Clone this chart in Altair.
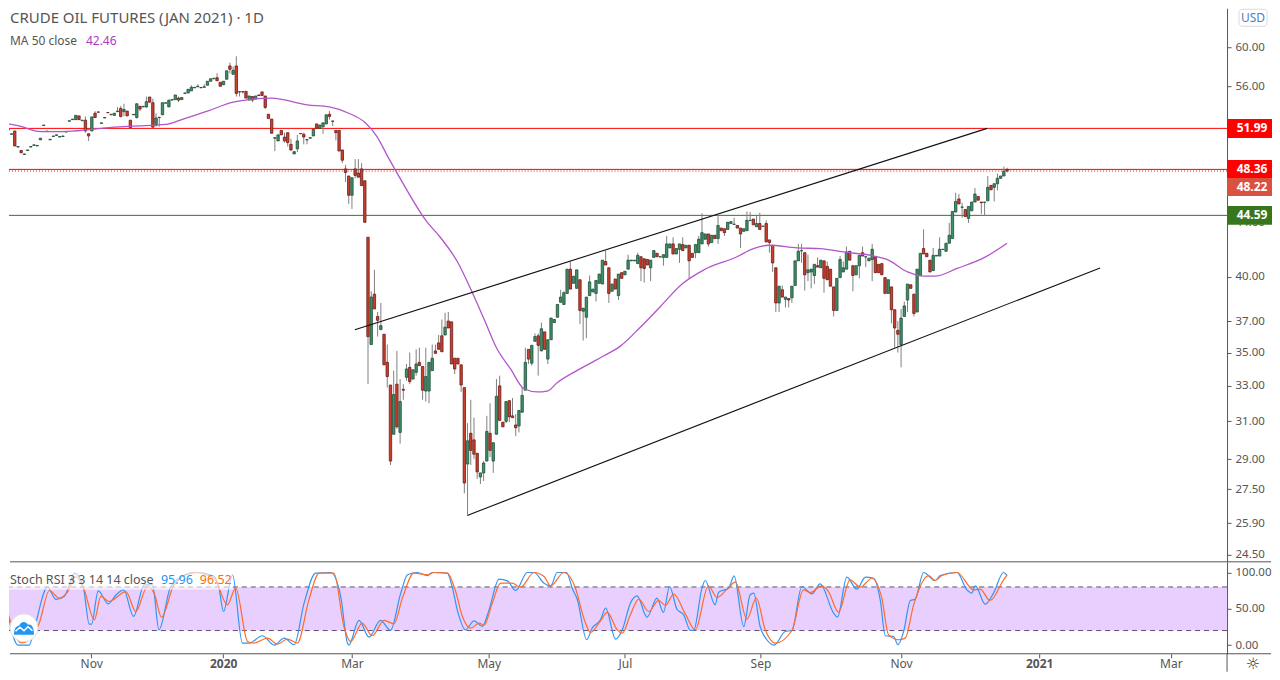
import altair as alt
import pandas as pd

# daily candles, ten bars per row
opens = [
    51.85, 51.45, 51.75, 50.3, 50.0, 49.65, 50.0, 50.3, 50.45, 50.4,
    50.95, 52.25, 51.7, 50.95, 51.25, 51.35, 51.2, 51.25, 51.65, 52.65,
    52.8, 52.8, 53.15, 52.7, 52.75, 51.5, 51.75, 53.4, 53.52, 52.45,
    52.95, 53.47, 53.25, 53.2, 53.55, 53.85, 53.55, 53.6, 52.75, 53.25,
    53.0, 54.05, 54.0, 54.0, 54.95, 54.4, 52.3, 53.02, 53.25, 54.35,
    54.0, 54.65, 54.7, 54.85, 54.7, 55.3, 55.35, 55.55, 55.85, 55.95,
    55.88, 55.9, 56.1, 56.5, 56.75, 56.85, 56.4, 56.15, 56.7, 58.05,
    57.2, 58.05, 55.47, 55.47, 55.5, 54.65, 55.0, 54.75, 55.15, 55.45,
    55.05, 53.3, 52.85, 51.1, 50.85, 51.8, 51.2, 51.6, 50.55, 49.7,
    50.15, 51.52, 51.45, 50.97, 51.1, 51.3, 52.4, 52.0, 52.15, 52.4,
    53.3, 52.67, 51.8, 51.8, 50.05, 48.4, 47.8, 46.2, 48.4, 48.05,
    48.4, 47.4, 42.9, 35.5, 38.8, 37.3, 36.45, 36.15, 34.4, 33.05,
    30.3, 33.1, 30.4, 32.8, 33.5, 34.1, 33.4, 33.8, 34.4, 34.15,
    32.7, 32.7, 33.9, 35.1, 35.6, 36.05, 36.1, 37.0, 36.95, 34.65,
    34.65, 34.25, 32.9, 28.75, 30.35, 30.0, 29.3, 28.1, 28.3, 28.9,
    30.35, 28.9, 30.3, 33.0, 30.95, 31.0, 32.15, 31.3, 30.8, 30.75,
    31.5, 32.75, 35.2, 34.35, 35.7, 36.05, 35.1, 36.3, 34.6, 35.8,
    36.9, 37.25, 38.25, 38.1, 38.85, 40.55, 39.55, 39.2, 39.8, 37.65,
    37.25, 38.7, 38.95, 38.85, 39.55, 39.5, 41.1, 40.65, 39.0, 39.85,
    38.7, 40.3, 40.15, 40.55, 41.15, 41.15, 40.95, 41.45, 41.3, 41.25,
    40.65, 41.4, 41.7, 41.43, 41.4, 41.4, 42.1, 42.4, 41.65, 42.0,
    42.35, 42.1, 42.3, 41.7, 41.75, 41.75, 42.4, 42.75, 43.15, 42.5,
    43.05, 42.8, 43.6, 43.55, 43.5, 43.95, 43.88, 43.8, 43.6, 43.35,
    43.4, 44.18, 44.3, 43.7, 43.95, 43.73, 43.95, 42.7, 42.3, 40.65,
    38.2, 39.1, 38.45, 38.5, 38.55, 39.4, 41.15, 41.88, 41.75, 40.3,
    40.35, 40.1, 40.8, 40.65, 41.15, 40.75, 40.55, 39.3, 37.7, 39.95,
    40.35, 40.55, 41.85, 40.8, 40.15, 40.8, 41.75, 41.43, 41.15, 41.25,
    41.45, 40.9, 40.95, 39.95, 38.85, 39.3, 37.75, 36.4, 35.5, 37.3,
    38.4, 39.45, 38.8, 37.6, 40.1, 42.05, 41.7, 41.2, 40.45, 41.5,
    41.5, 41.98, 41.85, 42.45, 42.8, 44.85, 45.9, 45.23, 45.05, 44.35,
    44.95, 45.65, 46.1, 45.65, 45.63, 45.75, 47.0, 46.85, 47.15, 47.6, 47.8, 48.36,
]
highs = [
    51.9, 51.5, 51.75, 50.35, 50.0, 49.7, 50.05, 50.35, 50.5, 50.45,
    51.1, 52.3, 51.75, 51.0, 51.3, 51.4, 51.25, 51.3, 51.7, 52.7,
    52.85, 53.2, 53.15, 52.75, 53.1, 51.5, 53.05, 53.6, 53.55, 52.5,
    53.0, 53.47, 53.3, 53.4, 54.0, 54.1, 54.3, 53.6, 52.75, 53.3,
    54.3, 54.1, 54.05, 55.0, 54.95, 54.8, 53.4, 53.02, 54.4, 54.4,
    54.65, 54.7, 55.15, 55.0, 54.9, 55.35, 55.7, 56.1, 55.9, 56.2,
    55.88, 56.2, 56.5, 56.75, 56.8, 57.3, 56.4, 56.5, 57.55, 58.4,
    58.0, 59.05, 55.47, 55.47, 55.5, 55.05, 55.0, 55.05, 55.15, 55.45,
    55.05, 53.3, 52.85, 51.15, 51.4, 51.8, 51.6, 51.6, 51.05, 49.9,
    51.4, 51.52, 51.6, 50.97, 51.15, 51.9, 52.4, 52.3, 52.5, 53.25,
    53.6, 52.67, 51.8, 51.8, 50.05, 48.75, 47.8, 47.65, 49.25, 49.25,
    48.9, 47.4, 42.9, 39.0, 40.5, 37.6, 38.2, 36.15, 35.5, 33.05,
    33.9, 35.1, 33.4, 33.1, 34.3, 35.0, 33.95, 35.2, 35.3, 34.15,
    35.3, 34.4, 35.5, 35.5, 36.1, 37.1, 37.55, 37.6, 36.95, 34.65,
    34.65, 34.25, 32.9, 30.9, 32.2, 31.2, 29.3, 28.3, 28.9, 31.3,
    32.0, 29.85, 33.4, 33.6, 30.95, 32.1, 32.15, 32.3, 31.4, 31.6,
    32.9, 35.3, 35.2, 35.45, 36.2, 36.2, 36.9, 36.3, 35.8, 37.2,
    37.1, 38.1, 39.1, 39.0, 40.55, 41.1, 40.05, 40.5, 39.8, 37.85,
    38.6, 40.1, 39.15, 39.75, 40.2, 41.2, 41.9, 40.65, 39.5, 39.85,
    40.2, 40.3, 40.4, 41.6, 41.2, 41.2, 41.75, 41.45, 41.3, 41.25,
    41.2, 41.9, 41.7, 41.45, 41.6, 43.0, 42.4, 42.9, 42.05, 42.4,
    42.9, 42.3, 42.3, 41.7, 42.35, 43.0, 44.75, 43.15, 43.15, 43.05,
    43.05, 44.6, 43.6, 43.55, 44.05, 44.1, 44.4, 43.8, 43.6, 43.55,
    44.9, 44.85, 44.3, 44.6, 44.8, 43.75, 44.2, 42.7, 42.3, 40.65,
    39.35, 39.4, 38.6, 38.5, 39.35, 41.15, 42.4, 42.4, 41.75, 41.6,
    40.55, 40.9, 41.4, 41.2, 41.15, 41.1, 40.55, 39.3, 39.9, 41.5,
    41.1, 42.2, 41.85, 40.8, 40.8, 41.55, 42.2, 41.45, 41.35, 42.4,
    41.45, 40.9, 40.95, 39.95, 39.8, 39.3, 37.75, 37.0, 37.8, 38.3,
    39.5, 39.45, 38.8, 40.55, 41.7, 43.5, 41.7, 41.2, 42.1, 41.55,
    42.9, 42.0, 42.45, 44.0, 44.9, 46.4, 46.3, 45.6, 45.05, 45.3,
    45.65, 46.8, 46.1, 45.65, 45.65, 47.8, 47.0, 47.15, 48.0, 47.8, 48.6, 48.5,
]
lows = [
    51.85, 51.45, 50.4, 50.3, 49.8, 49.65, 50.0, 50.3, 50.45, 50.4,
    50.95, 52.25, 51.7, 50.95, 51.25, 51.35, 51.2, 51.25, 51.65, 52.65,
    52.8, 52.8, 52.8, 52.7, 51.6, 50.85, 51.75, 53.0, 53.5, 52.45,
    52.95, 53.45, 53.25, 53.2, 53.5, 53.0, 53.1, 53.15, 51.95, 53.25,
    52.9, 53.6, 54.0, 53.9, 54.45, 52.1, 52.15, 52.15, 53.25, 54.35,
    54.0, 54.65, 54.7, 54.45, 54.7, 55.3, 55.35, 55.55, 55.85, 55.95,
    55.85, 55.9, 56.1, 56.5, 56.75, 56.55, 56.0, 56.15, 56.7, 57.3,
    57.2, 55.0, 55.0, 55.3, 54.85, 54.65, 54.45, 54.75, 55.1, 55.1,
    53.8, 52.9, 51.5, 49.95, 50.85, 51.4, 50.7, 50.35, 49.95, 49.7,
    49.85, 51.5, 50.55, 50.55, 51.1, 51.3, 52.0, 52.0, 51.5, 52.4,
    52.8, 52.2, 50.9, 49.95, 48.9, 47.3, 45.5, 45.1, 47.6, 47.7,
    46.95, 44.0, 33.1, 35.5, 37.8, 36.0, 36.4, 34.25, 32.9, 28.7,
    30.3, 30.6, 29.8, 32.2, 33.3, 33.1, 33.4, 33.6, 34.2, 32.2,
    32.1, 32.0, 33.9, 34.95, 35.2, 35.05, 36.1, 36.55, 34.3, 33.7,
    34.3, 32.65, 27.3, 26.3, 28.7, 29.0, 28.0, 27.75, 27.9, 28.9,
    29.1, 28.3, 30.3, 31.05, 30.7, 30.9, 30.95, 31.2, 30.2, 30.4,
    31.5, 32.75, 34.3, 34.2, 35.7, 33.6, 35.1, 35.2, 34.3, 35.8,
    36.9, 37.25, 38.25, 38.1, 38.85, 39.15, 39.55, 39.2, 36.8, 35.75,
    35.9, 38.7, 38.95, 38.3, 39.55, 39.5, 40.85, 38.2, 39.0, 39.15,
    38.4, 39.9, 40.15, 40.55, 41.15, 41.15, 40.95, 39.7, 39.6, 40.85,
    39.7, 41.4, 41.45, 41.43, 40.8, 41.4, 42.1, 41.65, 41.65, 41.0,
    41.9, 42.1, 39.9, 41.4, 41.35, 41.75, 42.4, 42.75, 42.2, 42.5,
    42.8, 42.4, 43.4, 43.0, 43.5, 43.95, 43.88, 43.6, 42.1, 43.35,
    43.4, 44.18, 43.85, 43.7, 43.5, 43.73, 42.55, 41.75, 40.35, 37.6,
    37.6, 38.6, 37.9, 37.9, 38.2, 39.4, 41.15, 41.0, 39.05, 39.7,
    39.2, 39.5, 40.7, 40.65, 38.9, 39.8, 39.35, 37.3, 37.7, 39.95,
    40.35, 40.55, 41.2, 39.0, 40.15, 39.9, 41.5, 40.7, 41.15, 39.7,
    40.3, 40.3, 40.15, 38.85, 38.85, 36.85, 35.3, 35.0, 34.1, 37.3,
    37.6, 39.2, 37.3, 37.6, 40.1, 41.65, 41.45, 40.35, 40.45, 41.5,
    41.5, 41.98, 41.85, 42.45, 42.8, 44.85, 45.5, 44.4, 44.5, 44.0,
    44.95, 45.65, 45.8, 44.7, 44.55, 45.75, 46.65, 45.7, 46.6, 47.6, 47.8, 48.1,
]
closes = [
    51.9, 51.5, 50.4, 50.35, 49.8, 49.7, 50.05, 50.35, 50.5, 50.45,
    51.1, 52.3, 51.75, 51.0, 51.3, 51.4, 51.25, 51.3, 51.7, 52.7,
    52.85, 53.2, 52.8, 52.75, 51.75, 51.3, 53.05, 53.0, 53.5, 52.5,
    53.0, 53.45, 53.3, 53.4, 53.6, 53.1, 53.75, 53.15, 52.05, 53.3,
    54.3, 53.8, 54.05, 54.5, 54.45, 52.1, 52.95, 53.0, 54.4, 54.4,
    54.65, 54.7, 55.15, 54.65, 54.9, 55.35, 55.7, 55.9, 55.9, 56.0,
    55.85, 55.95, 56.5, 56.75, 56.8, 56.55, 56.0, 56.5, 57.55, 57.7,
    57.6, 55.3, 55.45, 55.45, 54.85, 55.05, 54.65, 55.05, 55.1, 55.1,
    53.95, 52.9, 51.55, 51.15, 51.4, 51.4, 50.85, 50.7, 50.05, 49.9,
    50.85, 51.5, 51.2, 50.95, 51.15, 51.9, 52.0, 52.3, 52.5, 53.25,
    53.1, 52.65, 51.6, 49.95, 49.15, 48.1, 46.2, 47.65, 47.85, 47.7,
    47.0, 44.05, 36.0, 38.6, 37.8, 37.05, 36.7, 34.25, 33.55, 28.9,
    32.5, 30.7, 32.1, 32.75, 34.0, 33.25, 33.95, 34.3, 34.2, 32.75,
    33.55, 34.4, 34.65, 34.95, 35.2, 35.05, 36.6, 36.55, 34.3, 34.0,
    34.3, 33.05, 27.8, 29.95, 29.45, 29.25, 28.35, 28.3, 28.8, 30.45,
    29.45, 29.85, 32.4, 31.05, 30.7, 32.1, 31.25, 31.2, 30.65, 31.6,
    32.45, 34.4, 34.6, 35.45, 36.0, 35.45, 36.5, 35.2, 35.8, 37.2,
    37.1, 38.1, 38.6, 38.9, 40.55, 39.15, 40.05, 40.5, 37.7, 37.85,
    38.6, 39.65, 39.15, 39.75, 40.2, 41.2, 40.85, 38.85, 39.5, 39.15,
    40.2, 39.9, 40.4, 41.2, 41.2, 41.2, 41.55, 40.65, 40.6, 40.85,
    41.2, 41.9, 41.45, 41.45, 41.6, 42.4, 42.4, 41.65, 42.05, 42.4,
    41.9, 42.3, 41.15, 41.4, 42.35, 42.75, 43.25, 43.15, 42.4, 43.05,
    42.8, 43.8, 43.4, 43.25, 44.05, 44.1, 43.9, 43.6, 43.15, 43.55,
    44.2, 44.2, 43.85, 43.95, 43.5, 43.75, 42.55, 42.5, 41.0, 38.2,
    39.35, 38.6, 38.6, 38.4, 39.35, 41.15, 41.85, 41.9, 40.15, 40.5,
    40.55, 40.9, 40.7, 41.2, 39.9, 39.8, 39.35, 37.7, 39.9, 41.25,
    40.65, 41.8, 41.2, 40.1, 40.8, 41.55, 41.5, 41.45, 41.35, 42.0,
    40.3, 40.3, 40.15, 38.85, 39.8, 37.75, 36.55, 36.15, 37.2, 38.0,
    39.5, 39.2, 37.5, 40.55, 41.7, 41.65, 41.45, 40.35, 41.55, 41.55,
    42.0, 42.0, 42.45, 43.05, 44.9, 45.7, 45.5, 45.25, 44.5, 45.3,
    45.65, 46.3, 45.8, 45.6, 45.65, 46.85, 46.65, 47.15, 47.6, 47.8, 48.2, 48.22,
]

# 50 day average, turning points only
ma_bars = [0, 3, 10, 17, 26, 33, 39, 49, 54, 62, 70, 76, 82, 93, 100, 106, 111, 115, 118, 122,
           130, 134.5, 139.8, 144.5, 148, 152, 156.4, 160.5, 164.7, 167.8, 171, 177, 185.5, 190.6,
           196.8, 203, 209.8, 216.6, 226.9, 232, 237, 245.6, 252.9, 260, 269.6, 273.6, 280, 285.1,
           288.6, 295.4, 304, 311]
ma_values = [52.4, 52.25, 51.7, 51.7, 51.9, 52.1, 52.2, 52.35, 52.8, 53.6, 54.45, 54.75, 54.85, 54.2,
             54.0, 53.4, 52.55, 51.15, 49.55, 47.6,
             44.2, 42.9, 41.1, 38.9, 37.2, 35.3, 34.0, 32.85, 32.65, 32.7, 33.2, 33.9, 34.8, 35.4,
             36.6, 37.95, 39.5, 40.5, 41.45, 42.05, 42.3, 42.1, 42.05, 41.8, 41.5, 41.25, 40.35, 40.05,
             40.05, 40.6, 41.4, 42.45]

# stoch rsi %K and %D, turning points only
k_bars = [0, 3, 6.5, 8, 12.2, 14.8, 17.4, 20.7, 23.4, 25.2, 25.9, 28, 31.1, 33.5, 35.9, 39, 42.3, 44.9,
          46.9, 50.6, 56.8, 58.9, 64.1, 65.6, 67, 69.8, 72.9, 75, 79.1, 82.8, 85.9, 89, 92.1, 95.7,
          100.4, 103.5, 105.6, 106, 109.2, 112.3, 115.9, 119, 122.2, 124.3, 127.4, 130.5, 132, 136.7,
          138.3, 139.8, 142.4, 145, 147.6, 149.7, 152.8, 155.4, 158, 161.6, 163.7, 166.8, 168.9, 170.9,
          173.8, 175.6, 177.2, 180.1, 181.8, 184.4, 186, 189.1, 191.2, 193.7, 195.8, 198.9, 202, 204,
          205.9, 208.2, 210.3, 212.4, 213.4, 216, 217, 220.1, 221.2, 224.3, 226, 229, 231, 232.1,
          234.1, 236.2, 238.5, 241.9, 244, 247.1, 250.2, 252.8, 257, 258.2, 261.1, 264.2, 266.9,
          269.4, 271.5, 273.1, 275.7, 277, 278.8, 280.9, 282.4, 285, 288.6, 290.2, 295.4, 298.5,
          300, 301.1, 304.2, 306.8, 309.9, 311]
k_values = [40, 0, 0, 21, 79.7, 63, 67, 99, 78.3, 28.8, 28.8, 74.7, 56.8, 69, 76, 39.4, 82.9, 82.9,
            21, 80.6, 99, 99.9, 94.4, 78.3, 46.2, 96.7, 2.7, 2.7, 12.8, 0, 9.6, 0.4, 57.7, 99,
            99.9, 66.9, 2.7, 0, 33.9, 10.9, 33.9, 20.1, 71.5, 96.7, 99.9, 95.7, 99.9, 99,
            78.3, 48.5, 21, 33.4, 25.6, 48.5, 90.7, 88.4, 75.1, 99.9, 99.9, 85.2, 81.5, 99.9,
            99.9, 78.3, 62.3, 7.3, 23.3, 34.8, 50.8, 8.2, 21, 57.7, 67.8, 38.4, 64.6, 44.9,
            80.6, 49.4, 41.6, 20.1, 20.1, 78.3, 88.9, 55.4, 72.8, 78.3, 95.3, 25.6, 69.2, 71.5,
            25.6, 7.3, 0, 18.7, 20.1, 80.6, 70.5, 84.3, 43.9, 38.4, 93.5, 77, 93.5,
            92, 62.3, 12.8, 11.8, 0.4, 18.7, 61.4, 63.2, 99.9, 88.9, 95.7, 99.9, 76,
            71.5, 81.5, 56.3, 71.5, 99.9, 95.96]
d_bars = [0, 4, 6.5, 9.6, 12.8, 15.9, 18.5, 21, 23.6, 26.8, 28.8, 31.4, 36.6, 39.7, 43.3, 45.4, 47.7,
          51.6, 57.9, 64.1, 68.2, 70.8, 74.5, 76.5, 80.7, 83.8, 86.9, 90, 93.6, 96.8, 101.4, 104.5,
          106.6, 110.2, 113.3, 117, 120.1, 122.7, 126.3, 130.5, 132.6, 136.7, 139.3, 141.4, 144,
          146.6, 148.1, 150.7, 153.3, 156.9, 159.5, 163.7, 166.8, 168.9, 173, 176.6, 179.2, 181.3,
          184.4, 186.5, 189.6, 191.2, 193.7, 196.3, 199.4, 202.5, 204.6, 207.2, 210.8, 213.9, 218,
          220.7, 223.8, 226.4, 230, 232.9, 235.7, 238.8, 244, 247.6, 249.7, 253.3, 255.4, 258.5,
          262.1, 265.3, 268.9, 272, 274.1, 277.2, 279.3, 281.9, 286.6, 288.6, 290.7, 295.4, 300.6,
          302.6, 305.7, 309.9, 311]
d_values = [42, 3, 7, 30, 75.1, 64.6, 73.7, 94.4, 76, 34.8, 66.9, 60, 73.7, 46.2, 80.6, 71.5, 38.4,
            82.9, 99.9, 92, 55.4, 78.3, 5, 2.7, 9.6, 1.3, 8.2, 2.7, 62.3, 99, 99, 25.6,
            5, 30.2, 12.8, 33.9, 29.3, 64.6, 99, 96.7, 99.9, 99, 73.7, 39.4, 23.3,
            30.2, 27, 57.7, 85.2, 85.2, 79.7, 99.9, 94.4, 81.5, 99.9, 78.3, 37, 17.3,
            33.4, 44.9, 21, 16.4, 41.6, 63.2, 46.2, 61.4, 54.5, 70.1, 43, 21, 81.5,
            65.5, 77, 86.6, 35.7, 64.6, 21, 2.7, 20.1, 76, 72.4, 81.5, 73.7, 45.3,
            89.8, 79.7, 92, 64.6, 14.1, 7.3, 9.6, 55.4, 95.7, 88.9, 95.7, 99.9, 76,
            76.9, 61.4, 89.8, 96.52]

upper_bars = [107.9, 304.8]
upper_prices = [36.44, 51.99]
lower_bars = [142.9, 339.97]
lower_prices = [26.25, 40.64]

level_prices = [51.99, 48.36, 44.59]
level_colors = ["#ff0000", "#ff0000", "#38761d"]
last_price = 48.22

price_ticks = [60, 56, 44, 40, 37, 35, 33, 31, 29, 27.5, 25.9, 24.5]
stoch_ticks = [0, 50, 100]
time_ticks = [25.8, 66.9, 107, 149.6, 192, 234.2, 278, 321, 362]
time_labels = ["Nov", "2020", "Mar", "May", "Jul", "Sep", "Nov", "2021", "Mar"]

FONT = "Noto Sans"
TEXT = "#555555"
W, H = 1219, 554
SUB_H = 92
FOOT = 18

# padding=0: bars would otherwise add 5px each side to the continuous x scale
x_scale = alt.Scale(domain=[0.208, 379.5], nice=False, zero=False, padding=0)
y_scale = alt.Scale(type="log", domain=[24.19, 64.27], nice=False, zero=False)
stoch_scale = alt.Scale(domain=[-11.96, 114.6], nice=False, zero=False)
one = pd.DataFrame({"a": [0]})

candles = pd.DataFrame({"bar": range(len(opens)), "o": opens, "h": highs, "l": lows, "c": closes})
candles["dir"] = ["up" if c > o else "down" for o, c in zip(opens, closes)]
ma = pd.DataFrame({"bar": ma_bars, "v": ma_values})
upper = pd.DataFrame({"bar": upper_bars, "v": upper_prices})
lower = pd.DataFrame({"bar": lower_bars, "v": lower_prices})
levels = pd.DataFrame({"v": level_prices, "v2": level_prices, "col": level_colors,
                       "txt": [f"{p:.2f}" for p in level_prices]})
last = pd.DataFrame({"v": [last_price], "v2": [last_price], "txt": [f"{last_price:.2f}"]})

price_axis = alt.Axis(
    orient="right", values=price_ticks, format=".2f", title=None, labelColor=TEXT, labelFont=FONT,
    labelFontSize=11.5, tickColor=TEXT, domainColor=TEXT, tickSize=4, labelPadding=4, grid=False,
    labelOverlap=False,
)
stoch_axis = alt.Axis(
    orient="right", values=stoch_ticks, format=".2f", title=None, labelColor=TEXT, labelFont=FONT,
    labelFontSize=11.5, tickColor=TEXT, domainColor=TEXT, tickSize=4, labelPadding=4, grid=False,
)
label_expr = (
    "[" + ",".join(f"'{s}'" for s in time_labels) + "][indexof(["
    + ",".join(str(t) for t in time_ticks) + "], datum.value)]"
)
time_axis = alt.Axis(
    values=time_ticks, labelExpr=label_expr, title=None, labelColor=TEXT, labelFont=FONT, labelFontSize=12,
    labelFontWeight=alt.expr("datum.value == 66.9 || datum.value == 321 ? 'bold' : 'normal'"),
    tickColor=TEXT, domain=False, tickSize=4, labelPadding=1, grid=False, labelOverlap=False,
)

x_q = alt.X("bar:Q", scale=x_scale, axis=None)
x_time = alt.X("bar:Q", scale=x_scale, axis=time_axis)


def y_price(field):
    return alt.Y(field, scale=y_scale, axis=price_axis)


def y_sub(field):
    return alt.Y(field, scale=stoch_scale, axis=stoch_axis)


def text(s, px, py, color=TEXT, size=12, weight="normal", align="left", font=FONT):
    return alt.Chart(one).mark_text(
        text=s, align=align, baseline="middle", font=font, fontSize=size, color=color, fontWeight=weight
    ).encode(x=alt.value(px), y=alt.value(py))


dir_fill = alt.Scale(domain=["up", "down"], range=["#3f8f68", "#c9402f"])
dir_edge = alt.Scale(domain=["up", "down"], range=["#1f4f3a", "#6d1b17"])

level_lines = alt.Chart(levels).mark_rule(strokeWidth=1).encode(
    y=y_price("v:Q"), color=alt.Color("col:N", scale=None)
)
last_line = alt.Chart(last).mark_rule(strokeWidth=1, color="#ff0000", strokeDash=[1, 2]).encode(y=y_price("v:Q"))
wicks = alt.Chart(candles).mark_rule(color="#808080", strokeWidth=1, clip=True).encode(
    x=x_q, y=y_price("l:Q"), y2="h:Q"
)
bodies = alt.Chart(candles).mark_bar(size=2.4, strokeWidth=0.8, clip=True).encode(
    x=x_q,
    y=y_price("o:Q"),
    y2="c:Q",
    fill=alt.Fill("dir:N", scale=dir_fill, legend=None),
    stroke=alt.Stroke("dir:N", scale=dir_edge, legend=None),
)
ma_line = alt.Chart(ma).mark_line(color="#b256c9", strokeWidth=1.3, clip=True, interpolate="monotone").encode(
    x=x_q, y=y_price("v:Q")
)
upper_line = alt.Chart(upper).mark_line(color="#111111", strokeWidth=1.1).encode(x=x_q, y=y_price("v:Q"))
lower_line = alt.Chart(lower).mark_line(color="#111111", strokeWidth=1.1).encode(x=x_q, y=y_price("v:Q"))

level_tags = alt.Chart(levels).mark_rect(yOffset=-9.5, y2Offset=9.5).encode(
    x=alt.value(W), x2=alt.value(W + 45), y=y_price("v:Q"), y2="v2:Q", fill=alt.Fill("col:N", scale=None)
)
level_text = alt.Chart(levels).mark_text(
    font=FONT, fontSize=12, fontWeight="bold", color="white", align="center", baseline="middle"
).encode(x=alt.value(W + 25), y=y_price("v:Q"), text="txt:N")
last_tag = alt.Chart(last).mark_rect(yOffset=7, y2Offset=25, fill="#d9523f").encode(
    x=alt.value(W), x2=alt.value(W + 45), y=y_price("v:Q"), y2="v2:Q"
)
last_text = alt.Chart(last).mark_text(
    font=FONT, fontSize=12, fontWeight="bold", color="white", align="center", baseline="middle", yOffset=16
).encode(x=alt.value(W + 25), y=y_price("v:Q"), text="txt:N")

usd_box = alt.Chart(one).mark_rect(fill="white", stroke="#d8dbe0", cornerRadius=3).encode(
    x=alt.value(W + 12), x2=alt.value(W + 40), y=alt.value(1), y2=alt.value(18)
)
sep_main = alt.Chart(one).mark_rule(color=TEXT, strokeWidth=1).encode(
    x=alt.value(1), x2=alt.value(W + 44), y=alt.value(H)
)

main = alt.layer(
    level_lines, last_line, wicks, bodies, ma_line, upper_line, lower_line,
    level_tags, level_text, last_tag, last_text, usd_box,
    text("USD", W + 26, 10, color="#4f7fbf", size=12, align="center"),
    text("CRUDE OIL FUTURES (JAN 2021) · 1D", 1, 9.5, size=15),
    text("MA 50 close", 1, 33),
    text("42.46", 77, 33, color="#a93cc0"),
    sep_main,
).properties(width=W, height=H)

# lower panel
band = alt.Chart(pd.DataFrame({"hi": [80], "lo": [20]})).mark_rect(fill="#e9cffd").encode(
    y=y_sub("hi:Q"), y2="lo:Q"
)
band_lines = alt.Chart(pd.DataFrame({"v": [80, 20]})).mark_rule(
    color="#5f4f6f", strokeDash=[5, 4], strokeWidth=1
).encode(y=y_sub("v:Q"))

k_line = alt.Chart(pd.DataFrame({"bar": k_bars, "v": k_values})).mark_line(
    color="#2e96f3", strokeWidth=1.2, clip=True, interpolate="monotone"
).encode(x=x_time, y=y_sub("v:Q"))
d_line = alt.Chart(pd.DataFrame({"bar": d_bars, "v": d_values})).mark_line(
    color="#ff6a2b", strokeWidth=1.2, clip=True, interpolate="monotone"
).encode(x=x_time, y=y_sub("v:Q"))

legend_bg = alt.Chart(one).mark_rect(fill="white", opacity=0.6).encode(
    x=alt.value(0), x2=alt.value(224), y=alt.value(10), y2=alt.value(28)
)

cloud = "M-1 0.7C-1 0 -0.7 -0.2 -0.5 -0.2C-0.3 -0.7 0.2 -0.7 0.4 -0.3C0.8 -0.4 1 0 1 0.7Z"
zigzag = "M-0.85 0.35L-0.4 -0.05L0 0.3L0.4 -0.1L0.85 0.3"
logo_bg = alt.Chart(one).mark_point(
    shape="circle", filled=False, fill="white", fillOpacity=1, size=784, stroke="#dddddd", strokeWidth=1, opacity=1
).encode(x=alt.value(15), y=alt.value(66))
logo_cloud = alt.Chart(one).mark_point(
    shape=cloud, filled=True, size=400, color="#2196f3", opacity=1
).encode(x=alt.value(15), y=alt.value(66))
logo_zig = alt.Chart(one).mark_point(
    shape=zigzag, filled=False, size=400, color="white", strokeWidth=1.6, opacity=1
).encode(x=alt.value(15), y=alt.value(66))

vert_bottom = alt.Chart(one).mark_rule(color=TEXT, strokeWidth=1).encode(
    x=alt.value(W), y=alt.value(SUB_H), y2=alt.value(SUB_H + FOOT)
)
sep_sub = alt.Chart(one).mark_rule(color=TEXT, strokeWidth=1).encode(
    x=alt.value(1), x2=alt.value(W + 44), y=alt.value(SUB_H)
)

stoch = alt.layer(
    band, band_lines, k_line, d_line, legend_bg,
    text("Stoch RSI 3 3 14 14 close", 1, 18.5, size=12.5),
    text("95.96", 152, 18.5, color="#2196f3", size=12.5),
    text("96.52", 191, 18.5, color="#ff6d00", size=12.5),
    logo_bg, logo_cloud, logo_zig,
    sep_sub, vert_bottom,
    text("☼", W + 26, SUB_H + 10, color="#333333", size=16, align="center", font="DejaVu Sans"),
).properties(width=W, height=SUB_H)

chart = alt.vconcat(main, stoch, spacing=0, bounds="flush").properties(padding=0).configure_view(stroke=None)

chart.save("out.html", embed_options={"renderer": "svg", "actions": False})
